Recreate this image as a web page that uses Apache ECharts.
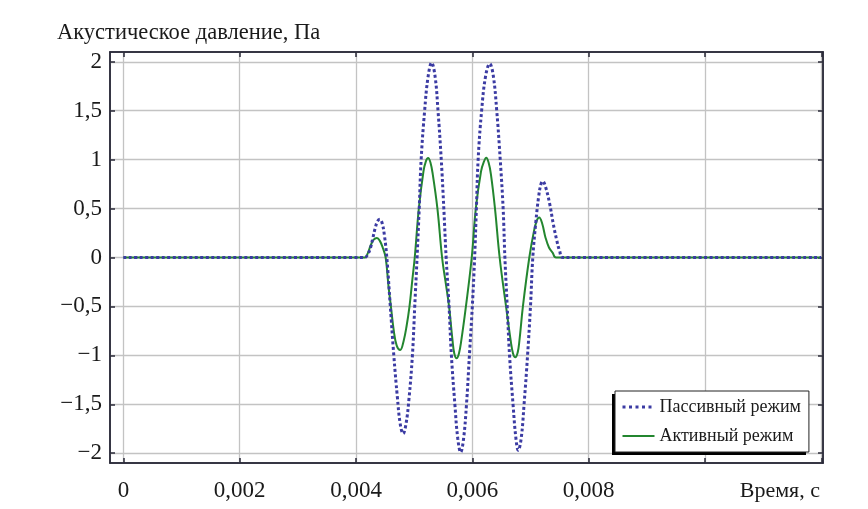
<!DOCTYPE html>
<html><head><meta charset="utf-8">
<script src="https://cdn.jsdelivr.net/npm/echarts@6/dist/echarts.min.js"></script>
<style>html,body{margin:0;padding:0;background:#fff}#c{width:868px;height:509px}</style>
</head><body><div id="c"></div>
<script>
// ---- data ----
var yTitle = 'Акустическое давление, Па';
var xName = 'Время, с';
var seriesNames = ['Пассивный режим', 'Активный режим'];
var xTickValues = [0, 0.002, 0.004, 0.006, 0.008, 0.010, 0.012];
var xLabelValues = [0, 0.002, 0.004, 0.006, 0.008];
var yTickValues = [-2, -1.5, -1, -0.5, 0, 0.5, 1, 1.5, 2];

var passiveT = [0, 0.00415, 0.00420, 0.00425, 0.00429, 0.00433, 0.00437, 0.00441, 0.00445, 0.00449,
  0.00453, 0.00459, 0.00465, 0.00471, 0.00476, 0.00481, 0.00486, 0.00491, 0.00497, 0.00501,
  0.00505, 0.005087, 0.00512, 0.00518, 0.00524, 0.00530, 0.00536, 0.00541, 0.005466, 0.00551,
  0.00555, 0.00560, 0.00564, 0.00570, 0.00575, 0.00580, 0.00585, 0.00590, 0.00595, 0.00600,
  0.00604, 0.00607, 0.00610, 0.00616, 0.00623, 0.00630, 0.00636, 0.00642, 0.00648, 0.00653,
  0.00656, 0.00660, 0.00664, 0.00670, 0.00675, 0.00679, 0.00684, 0.00689, 0.00695, 0.00700,
  0.00704, 0.00709, 0.00714, 0.00718, 0.00721, 0.00726, 0.00733, 0.00739, 0.00745, 0.00750,
  0.00756, 0.012];
var passiveP = [0, 0, 0.03, 0.10, 0.20, 0.30, 0.37, 0.39, 0.35, 0.22,
  0, -0.5, -1.0, -1.42, -1.70, -1.80, -1.70, -1.45, -1.0, -0.5,
  0, 0.5, 1.0, 1.5, 1.85, 1.99, 1.85, 1.5, 1.0, 0.5,
  0, -0.5, -1.0, -1.5, -1.85, -1.99, -1.85, -1.5, -1.0, -0.5,
  0, 0.5, 1.0, 1.5, 1.86, 1.98, 1.86, 1.5, 1.0, 0.5,
  0, -0.5, -1.0, -1.5, -1.85, -1.97, -1.85, -1.5, -1.0, -0.5,
  0, 0.35, 0.62, 0.75, 0.78, 0.72, 0.55, 0.35, 0.18, 0.07,
  0, 0];

var activeT = [0, 0.00415, 0.00420, 0.00425, 0.00430, 0.00436, 0.00441, 0.00446,
  0.00451, 0.00456, 0.00460, 0.00465, 0.00470, 0.00476, 0.00482, 0.00487, 0.00492, 0.00497,
  0.00501, 0.00508, 0.00516, 0.00520, 0.00524, 0.00528, 0.00532, 0.00540,
  0.00548, 0.00554, 0.00560, 0.00566, 0.00569, 0.00573, 0.00577, 0.00581, 0.00589,
  0.00599, 0.00606, 0.00615, 0.00620, 0.00624, 0.00628, 0.00632, 0.00639,
  0.00647, 0.00658, 0.00666, 0.00670, 0.00674, 0.00678, 0.00681, 0.00687,
  0.00698, 0.00706, 0.00711, 0.00715, 0.00720, 0.00726, 0.00732, 0.00738,
  0.00744, 0.012];
var activeP = [0, 0, 0.04, 0.12, 0.18, 0.20, 0.17, 0.10,
  0, -0.30, -0.5, -0.75, -0.90, -0.945, -0.85, -0.70, -0.5, -0.22,
  0, 0.5, 0.88, 0.98, 1.016, 0.97, 0.85, 0.5,
  0, -0.25, -0.5, -0.85, -0.98, -1.03, -0.98, -0.85, -0.5,
  0, 0.5, 0.88, 0.98, 1.02, 0.97, 0.85, 0.5,
  0, -0.5, -0.85, -0.98, -1.02, -0.97, -0.85, -0.5,
  0, 0.27, 0.38, 0.41, 0.35, 0.20, 0.10, 0.05,
  0, 0];

function pairs(t, v) { return t.map(function (x, i) { return [x, v[i]]; }); }
function fmt(v) {
  var s = String(Math.abs(v)).replace('.', ',');
  return (v < 0 ? '\u2212' : '') + s;
}

var FONT = 'Liberation Serif';
var DARK = '#2a2a38';
var GRIDC = '#c3c3c3';
var BLUE = '#3b3ba3';
var GREEN = '#23862f';

var chart = echarts.init(document.getElementById('c'), null, { renderer: 'canvas' });
chart.setOption({
  backgroundColor: '#ffffff',
  animation: false,
  textStyle: { fontFamily: FONT, color: '#1a1a1a' },
  title: {
    text: yTitle, left: 57, top: 22, padding: 0,
    textStyle: { fontFamily: FONT, fontSize: 22.5, fontWeight: 'normal', color: '#1a1a1a' }
  },
  grid: { left: 110, top: 52, right: 45, bottom: 46, show: true, borderColor: DARK, borderWidth: 1.5, containLabel: false },
  graphic: [{
    type: 'rect', z: 3, silent: true,
    shape: { x: 612, y: 394, width: 194, height: 61 },
    style: { fill: '#000' }
  }],
  legend: {
    orient: 'vertical', left: 615, top: 391, z: 10,
    data: [
      { name: seriesNames[0], lineStyle: { type: [3, 3.5], width: 3 } },
      { name: seriesNames[1] }
    ],
    backgroundColor: '#ffffff', borderColor: '#222', borderWidth: 1,
    padding: [7, 8, 7, 6], itemWidth: 32, itemHeight: 14, itemGap: 11, itemTextGap: 8,
    itemStyle: { opacity: 0 },
    textStyle: { fontFamily: FONT, fontSize: 18, color: '#1a1a1a', lineHeight: 14 }
  },
  xAxis: [{
    type: 'value', min: -0.00023, max: 0.01203,
    name: xName, nameLocation: 'end', nameGap: -3,
    nameTextStyle: { fontFamily: FONT, fontSize: 22, color: '#1a1a1a', align: 'right', verticalAlign: 'top', padding: [17, 0, 0, 0] },
    axisLine: { show: true, onZero: false, lineStyle: { color: DARK, width: 1.5 } },
    axisTick: { show: true, inside: true, length: 5, customValues: xTickValues, lineStyle: { color: DARK, width: 1.5 } },
    axisLabel: { customValues: xLabelValues, formatter: fmt, margin: 16, fontSize: 23, fontFamily: FONT, color: '#1a1a1a' },
    splitLine: { show: true, lineStyle: { color: GRIDC, width: 1.3 } }
  }, {
    type: 'value', min: -0.00023, max: 0.01203, position: 'top',
    axisLine: { show: true, onZero: false, lineStyle: { color: DARK, width: 1.5 } },
    axisTick: { show: true, inside: true, length: 5, customValues: xTickValues, lineStyle: { color: DARK, width: 1.5 } },
    axisLabel: { show: false },
    splitLine: { show: false }
  }],
  yAxis: [{
    type: 'value', min: -2.1, max: 2.1,
    axisLine: { show: true, onZero: false, lineStyle: { color: DARK, width: 1.5 } },
    axisTick: { show: true, inside: true, length: 5, customValues: yTickValues, lineStyle: { color: DARK, width: 1.5 } },
    axisLabel: { customValues: yTickValues, formatter: fmt, margin: 8, fontSize: 23, fontFamily: FONT, color: '#1a1a1a' },
    splitLine: { show: true, lineStyle: { color: GRIDC, width: 1.3 } }
  }, {
    type: 'value', min: -2.1, max: 2.1, position: 'right',
    axisLine: { show: true, onZero: false, lineStyle: { color: DARK, width: 1.5 } },
    axisTick: { show: true, inside: true, length: 5, customValues: yTickValues, lineStyle: { color: DARK, width: 1.5 } },
    axisLabel: { show: false },
    splitLine: { show: false }
  }],
  series: [{
    name: seriesNames[0], type: 'line', xAxisIndex: 0, yAxisIndex: 0,
    data: pairs(passiveT, passiveP), smooth: 0.4, showSymbol: false, symbol: 'none', z: 3,
    lineStyle: { color: BLUE, width: 3, type: [3, 2.5] },
    itemStyle: { color: BLUE }
  }, {
    name: seriesNames[1], type: 'line', xAxisIndex: 0, yAxisIndex: 0,
    data: pairs(activeT, activeP), smooth: 0.4, showSymbol: false, symbol: 'none', z: 2,
    lineStyle: { color: GREEN, width: 2 },
    itemStyle: { color: GREEN }
  }]
});
</script></body></html>
